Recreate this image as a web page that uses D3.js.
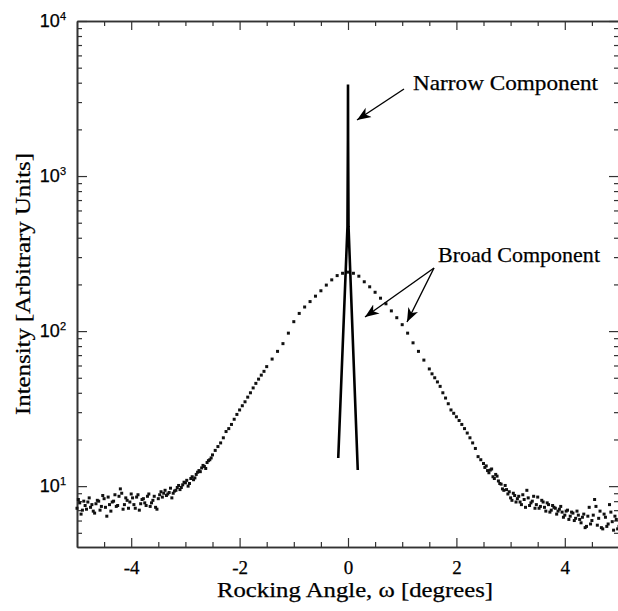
<!DOCTYPE html>
<html>
<head>
<meta charset="utf-8">
<script src="https://cdn.jsdelivr.net/npm/d3@7"></script>
<style>
  body { margin: 0; background: #fff; }
  text { fill: #000; stroke: #000; stroke-width: 0.25px; }
</style>
</head>
<body>
<svg id="chart" width="618" height="611"></svg>
<script>
// rocking curve, broad component (left tail, centre, right tail)
const angleLeft = [-5.00,-4.95,-4.90,-4.85,-4.80,-4.75,-4.70,-4.65,-4.60,-4.55,-4.50,-4.45,-4.40,-4.35,-4.30,-4.25,-4.20,-4.15,-4.10,-4.05,
  -4.00,-3.95,-3.90,-3.85,-3.80,-3.75,-3.70,-3.65,-3.60,-3.55,-3.50,-3.45,-3.40,-3.35,-3.30,-3.25,-3.20,-3.15,-3.10,-3.05,
  -3.00,-2.95,-2.90,-2.85,-2.80,-2.75,-2.70,-2.65,-2.60,-2.55,-2.50];
const broadLeft = [7.2,7.8,7.0,7.5,7.9,7.3,6.9,7.7,8.0,7.4,8.3,6.4,7.6,7.9,8.8,7.5,9.6,7.1,8.4,7.2,
  8.9,7.6,8.5,7.0,8.2,7.8,8.6,7.4,8.1,7.3,8.3,9.2,9.0,8.7,9.1,8.4,9.3,9.8,9.5,10.2,
  10.5,10.0,11.2,11.0,11.9,12.6,13.1,13.4,14.2,14.8,15.9];
const angleLeftB = [-4.975,-4.925,-4.875,-4.825,-4.775,-4.725,-4.675,-4.625,-4.575,-4.525,-4.475,-4.425,-4.375,-4.325,-4.275,-4.225,-4.175,-4.125,-4.075,-4.025,
  -3.975,-3.925,-3.875,-3.825,-3.775,-3.725,-3.675,-3.625,-3.575,-3.525,-3.475,-3.425,-3.375,-3.325,-3.275,-3.225,-3.175,-3.125,-3.075,-3.025,
  -2.975,-2.925,-2.875,-2.825,-2.775,-2.725,-2.675,-2.625,-2.575,-2.525];
const broadLeftB = [8.2,6.6,8.0,7.1,8.4,7.6,6.7,8.1,7.0,8.7,7.3,8.5,6.9,8.0,7.4,8.6,9.0,7.6,8.1,7.9,
  8.4,7.2,8.8,7.7,8.3,7.5,8.9,7.8,8.6,7.1,8.8,8.5,9.4,8.9,9.7,9.0,9.4,10.1,9.8,10.6,
  10.9,10.4,11.5,11.3,12.3,12.4,13.6,13.0,14.6,15.2];

const angleMid = [-2.4,-2.3,-2.2,-2.1,-2.0,-1.9,-1.8,-1.7,-1.6,-1.5,-1.4,-1.3,-1.2,-1.1,-1.0,-0.9,-0.8,-0.7,-0.6,-0.5,-0.4,-0.3,-0.2,-0.1,
  0.0,0.1,0.2,0.3,0.4,0.5,0.6,0.7,0.8,0.9,1.0,1.1,1.2,1.3,1.4,1.5,1.6,1.7,1.8,1.9,2.0,2.1,2.2,2.3,2.4];
const broadMid = [18,20.5,23.5,27,31,35,40,46,52,59,66,74,83,97,115,130,143,155,168,182,198,214,228,236,
  240,236,226,208,193,178,163,150,135,122,110,97,84,74,65,57,50,44,37,31,28,25,22,19,15.5];
const angleMidB = [-2.45,-2.35,-2.25,-2.15,-2.05,-1.95,-1.85,-1.75,-1.65,-1.55,
  1.55,1.65,1.75,1.85,1.95,2.05,2.15,2.25,2.35,2.45];
const broadMidB = [17.0,19.0,22.5,25,29,33,37.5,43,49,55,
  53,47,40,34,29.5,26.5,23.5,20.5,17.5,14.8];

const angleRight = [2.50,2.55,2.60,2.65,2.70,2.75,2.80,2.85,2.90,2.95,3.00,3.05,3.10,3.15,3.20,3.25,3.30,3.35,3.40,3.45,
  3.50,3.55,3.60,3.65,3.70,3.75,3.80,3.85,3.90,3.95,4.00,4.05,4.10,4.15,4.20,4.25,4.30,4.35,4.40,4.45,
  4.50,4.55,4.60,4.65,4.70,4.75,4.80,4.85,4.90,4.95,5.00];
const broadRight = [14.0,13.5,12.2,12.9,11.2,11.6,10.4,9.6,10.1,8.9,8.4,9.0,7.9,8.6,7.6,8.2,9.4,7.5,8.0,7.2,
  8.5,7.4,7.9,6.9,7.6,7.0,7.3,6.6,7.1,6.8,6.5,7.0,6.4,6.7,6.2,6.5,5.8,6.6,5.5,7.3,
  6.0,8.2,5.6,6.9,5.3,6.3,5.7,6.8,5.2,6.1,5.5];
const angleRightB = [2.525,2.575,2.625,2.675,2.725,2.775,2.825,2.875,2.925,2.975,3.025,3.075,3.125,3.175,3.225,3.275,3.325,3.375,3.425,3.475,
  3.525,3.575,3.625,3.675,3.725,3.775,3.825,3.875,3.925,3.975,4.025,4.075,4.125,4.175,4.225,4.275,4.325,4.375,4.425,4.475,
  4.525,4.575,4.625,4.675,4.725,4.775,4.825,4.875,4.925,4.975];
const broadRightB = [13.2,12.6,12.7,11.5,11.9,10.8,10.3,9.4,9.5,9.2,8.1,8.7,8.3,7.9,8.8,7.3,8.4,7.8,8.6,7.6,
  7.2,8.1,7.3,7.8,6.8,7.5,7.2,6.9,7.4,6.3,6.9,6.1,6.8,6.0,6.9,6.1,6.3,5.4,6.4,5.7,
  6.5,7.4,6.2,5.4,6.6,5.5,7.6,5.9,6.4,5.3];

// narrow component (spike)
const narrowAngle = [-0.18,-0.01,-0.002,0,0.002,0.01,0.18];
const narrowIntensity = [15.2,470,1700,3900,1700,470,12.7];

// ticks
const xMajorTicks = [-4,-2,0,2,4];
const xMinorTicks = [-4.5,-3.5,-3,-2.5,-1.5,-1,-0.5,0.5,1,1.5,2.5,3,3.5,4.5];
const yMajorTicks = [10,100,1000,10000];
const yExponents = ["1","2","3","4"];
const yMinorTicks = [5,6,7,8,9,20,30,40,50,60,70,80,90,200,300,400,500,600,700,800,900,2000,3000,4000,5000,6000,7000,8000,9000];

const plotLeft = 77, plotRight = 619, plotTop = 21, plotBottom = 547;

const svg = d3.select("#chart");

const x = d3.scaleLinear().domain([-5, 5]).range([plotLeft, plotRight]);
const y = d3.scaleLog().domain([4.05, 10000]).range([plotBottom, plotTop]);

const axisColor = "#333";
const serif = "'Liberation Serif', 'Times New Roman', serif";

function styleAxis(g) {
    g.select(".domain").attr("stroke", axisColor).attr("stroke-width", 1.6);
    g.selectAll(".tick line").attr("stroke", axisColor).attr("stroke-width", 1.2);
}

// bottom axis
svg.append("g")
    .attr("transform", "translate(0," + plotBottom + ")")
    .call(d3.axisBottom(x).tickValues(xMinorTicks).tickSizeInner(-5).tickSizeOuter(0).tickFormat(""))
    .call(styleAxis);
const bx = svg.append("g")
    .attr("transform", "translate(0," + plotBottom + ")")
    .call(d3.axisBottom(x).tickValues(xMajorTicks).tickSizeInner(-9).tickSizeOuter(0).tickPadding(14)
        .tickFormat(d => d))
    .call(styleAxis);
bx.selectAll(".tick text")
    .attr("font-family", serif)
    .attr("font-size", 19)
    .attr("fill", "#000");

// top axis
svg.append("g")
    .attr("transform", "translate(0," + plotTop + ")")
    .call(d3.axisTop(x).tickValues(xMinorTicks).tickSizeInner(-5).tickSizeOuter(0).tickFormat(""))
    .call(styleAxis);
svg.append("g")
    .attr("transform", "translate(0," + plotTop + ")")
    .call(d3.axisTop(x).tickValues(xMajorTicks).tickSizeInner(-9).tickSizeOuter(0).tickFormat(""))
    .call(styleAxis);

// left axis
svg.append("g")
    .attr("transform", "translate(" + plotLeft + ",0)")
    .call(d3.axisLeft(y).tickValues(yMinorTicks).tickSizeInner(-5).tickSizeOuter(0).tickFormat(""))
    .call(styleAxis);
svg.append("g")
    .attr("transform", "translate(" + plotLeft + ",0)")
    .call(d3.axisLeft(y).tickValues(yMajorTicks).tickSizeInner(-10).tickSizeOuter(0).tickFormat(""))
    .call(styleAxis);

// right axis
svg.append("g")
    .attr("transform", "translate(" + plotRight + ",0)")
    .call(d3.axisRight(y).tickValues(yMinorTicks).tickSizeInner(-5).tickSizeOuter(0).tickFormat(""))
    .call(styleAxis);
svg.append("g")
    .attr("transform", "translate(" + plotRight + ",0)")
    .call(d3.axisRight(y).tickValues(yMajorTicks).tickSizeInner(-10).tickSizeOuter(0).tickFormat(""))
    .call(styleAxis);

// y tick labels 10^n
const yl = svg.append("g").selectAll("text")
    .data(yMajorTicks)
    .join("text")
    .attr("x", 66)
    .attr("y", d => y(d) + 6)
    .attr("text-anchor", "end")
    .attr("font-family", "'Liberation Sans', Arial, sans-serif")
    .attr("font-size", 18);
yl.append("tspan").text("10");
yl.append("tspan")
    .attr("dy", -7)
    .attr("font-size", 11)
    .text((d, i) => yExponents[i]);

// data: broad component dots
const pairs = (a, v) => a.map((d, i) => [d, v[i]]);
const broad = [].concat(
    pairs(angleLeft, broadLeft), pairs(angleLeftB, broadLeftB),
    pairs(angleMid, broadMid), pairs(angleMidB, broadMidB),
    pairs(angleRight, broadRight), pairs(angleRightB, broadRightB));

svg.append("g").selectAll("rect")
    .data(broad)
    .join("rect")
    .attr("x", d => x(d[0]) - 1.5)
    .attr("y", d => y(d[1]) - 1.5)
    .attr("width", 3)
    .attr("height", 3)
    .attr("fill", "#111");

// narrow component line
const line = d3.line().x(d => x(d[0])).y(d => y(d[1]));
svg.append("path")
    .datum(pairs(narrowAngle, narrowIntensity))
    .attr("d", line)
    .attr("fill", "none")
    .attr("stroke", "#000")
    .attr("stroke-width", 2.6)
    .attr("stroke-linejoin", "miter");

// arrows + annotations
svg.append("defs").append("marker")
    .attr("id", "head")
    .attr("viewBox", "-14 -6 15 12")
    .attr("refX", 0).attr("refY", 0)
    .attr("markerWidth", 15).attr("markerHeight", 12)
    .attr("markerUnits", "userSpaceOnUse")
    .attr("orient", "auto")
    .append("path")
    .attr("d", "M0,0 L-14,-5.5 L-10,0 L-14,5.5 Z")
    .attr("fill", "#000");

const arrows = [
    [404, 89, 357, 120],
    [434, 268, 365, 317],
    [434, 268, 407, 322]
];
svg.append("g").selectAll("line")
    .data(arrows)
    .join("line")
    .attr("x1", d => d[0]).attr("y1", d => d[1])
    .attr("x2", d => d[2]).attr("y2", d => d[3])
    .attr("stroke", "#000")
    .attr("stroke-width", 1.4)
    .attr("marker-end", "url(#head)");

svg.append("text")
    .attr("x", 413).attr("y", 90)
    .attr("font-family", serif).attr("font-size", 22)
    .attr("textLength", 185).attr("lengthAdjust", "spacingAndGlyphs")
    .text("Narrow Component");
svg.append("text")
    .attr("x", 438).attr("y", 262)
    .attr("font-family", serif).attr("font-size", 22)
    .attr("textLength", 162).attr("lengthAdjust", "spacingAndGlyphs")
    .text("Broad Component");

// axis titles
svg.append("text")
    .attr("x", 355).attr("y", 597)
    .attr("text-anchor", "middle")
    .attr("font-family", serif).attr("font-size", 21)
    .attr("textLength", 276).attr("lengthAdjust", "spacingAndGlyphs")
    .text("Rocking Angle, ω [degrees]");
svg.append("text")
    .attr("transform", "translate(30,284) rotate(-90)")
    .attr("text-anchor", "middle")
    .attr("font-family", serif).attr("font-size", 21)
    .attr("textLength", 262).attr("lengthAdjust", "spacingAndGlyphs")
    .text("Intensity [Arbitrary Units]");
</script>
</body>
</html>
